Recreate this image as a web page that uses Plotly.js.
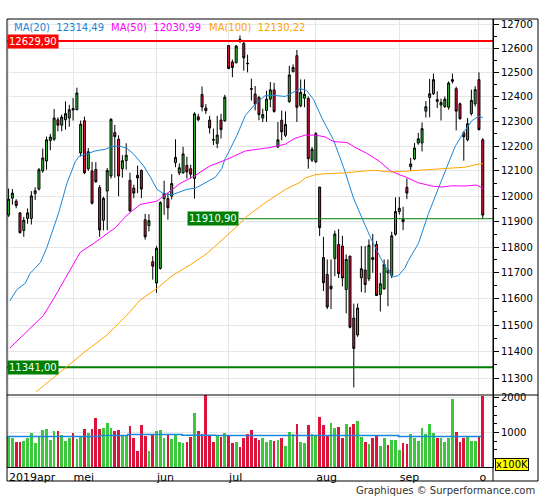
<!DOCTYPE html>
<html>
<head>
<meta charset="utf-8">
<script src="https://cdn.plot.ly/plotly-3.0.1.min.js"></script>
<style>
html,body{margin:0;padding:0;background:#fff;}
#chart{width:545px;height:500px;}
</style>
</head>
<body>
<div id="chart"></div>
<script>
// ---- data (daily candles, 2019) ----
const openP = [11925,11992,11980,11934,11865,11912,11912,12010,12028,12100,
12140,12222,12227,12306,12284,12306,12313,12352,12347,12172,
12302,12109,12100,12106,12034,11905,12020,12080,12254,12227,
12109,12141,12063,12032,12083,12102,11907,11884,11743,11661,
11717,11990,11990,12000,12133,12092,12092,12122,12109,12070,
12318,12409,12354,12305,12226,12211,12305,12302,12611,12543,
12540,12637,12620,12538,12433,12411,12397,12313,12344,12390,
12428,12196,12304,12243,12380,12503,12569,12363,12394,12393,
12143,12136,12036,11759,11694,11638,11756,11810,11804,11636,
11765,11527,11463,11681,11711,11677,11759,11810,11617,11638,
11711,11690,11850,11939,11909,12035,12117,12148,12212,12212,
12341,12397,12412,12388,12366,12360,12357,12463,12433,12371,
12253,12225,12331,12371,12470,12225];
const highP = [12030,12028,11988,11936,11918,11951,12020,12035,12112,12190,
12238,12249,12350,12316,12327,12381,12367,12395,12437,12303,
12319,12192,12136,12135,12044,11998,12112,12312,12285,12243,
12163,12211,12093,12045,12121,12106,11930,11929,11765,11804,
11980,12061,12013,12087,12227,12130,12197,12157,12125,12337,
12330,12442,12370,12322,12270,12322,12330,12408,12613,12553,
12613,12653,12627,12573,12474,12444,12404,12351,12424,12460,
12457,12297,12344,12340,12527,12533,12593,12471,12471,12401,
12196,12256,12036,11840,11752,11752,11864,11870,11844,11771,
11765,11582,11582,11804,11804,11830,11851,11824,11700,11752,
11752,11860,11995,11997,11958,12070,12152,12212,12253,12295,
12382,12473,12495,12422,12392,12401,12463,12495,12441,12376,
12260,12313,12429,12443,12500,12232];
const lowP = [11918,11966,11952,11853,11840,11891,11888,11985,12022,12093,
12105,12183,12221,12259,12259,12266,12278,12303,12345,12158,
12087,12100,11967,12053,11840,11865,11866,12070,12073,11999,
12073,12105,11938,11992,12012,11992,11829,11861,11674,11623,
11713,11926,11907,11987,12115,12083,12090,12070,12070,11990,
12300,12340,12330,12250,12204,12191,12230,12298,12513,12480,
12537,12623,12507,12500,12384,12344,12304,12297,12297,12357,
12335,12192,12223,12236,12375,12500,12297,12357,12357,12109,
12136,12133,11843,11630,11561,11561,11687,11680,11648,11545,
11488,11266,11456,11626,11623,11668,11700,11611,11552,11636,
11572,11680,11844,11927,11866,11988,12101,12143,12205,12178,
12315,12316,12407,12354,12303,12354,12347,12454,12263,12307,
12141,12219,12323,12360,12263,11911];
const closeP = [11988,12012,11963,11856,11905,11934,12001,12021,12105,12152,
12225,12236,12313,12284,12317,12331,12347,12346,12415,12288,
12093,12177,11972,12057,11867,11991,12102,12308,12238,12080,
12141,12163,11942,12012,12072,12028,11840,11903,11726,11795,
11974,12010,11954,12050,12154,12113,12168,12096,12087,12330,
12306,12358,12343,12273,12224,12244,12266,12398,12516,12520,
12609,12627,12560,12536,12431,12371,12327,12327,12390,12428,
12340,12225,12257,12287,12489,12520,12357,12418,12410,12149,
12187,12250,11876,11662,11569,11649,11851,11697,11680,11752,
11492,11412,11565,11716,11655,11807,11752,11613,11658,11732,
11700,11844,11939,11952,11899,12012,12128,12192,12229,12270,
12359,12412,12470,12381,12377,12390,12456,12470,12341,12310,
12237,12290,12385,12429,12266,11925];
// volume in units of 100K
const volume = [882,833,716,716,745,833,980,686,863,1069,
1098,784,1039,1039,922,755,833,980,814,882,
1098,980,1098,1422,1098,1127,1275,1118,1049,1069,
922,902,1186,833,461,1216,892,451,922,1039,
1069,833,931,814,922,716,686,716,863,1569,
1039,951,2300,892,716,902,863,980,922,686,
716,569,833,951,1069,833,775,833,716,775,
745,775,833,598,1010,951,1245,716,686,1216,
951,922,1451,1216,922,1275,1127,1157,833,1245,
1157,1245,1333,863,716,657,833,892,598,833,
627,775,775,480,686,657,951,833,745,1127,
951,1245,980,833,833,716,833,1951,1010,716,
833,863,745,745,863,2039];
// average volume (step line)
const volAvgX = [-0.4, 24, 31.4, 45.7, 54.5, 102.8, 124.7];
const volAvgY = [880, 910, 940, 920, 910, 880, 880];
// moving averages (candle index, value)
const ma20X = [0.3,2.2,4.4,5.7,8.4,10.1,13.2,15.4,17.6,18.6,20.2,22.8,25.5,27.2,29.4,31.2,32.9,35.6,37.3,39.1,
40.8,43.1,45.2,47.0,49.2,51.0,52.3,54.5,56.2,57.1,57.9,60.2,62.4,65.0,67.6,70.3,72.9,74.7,76.9,78.6,
80.4,82.6,85.6,88.3,90.9,93.5,95.8,98.4,100.2,101.4,102.8,104.5,105.4,108.0,110.7,113.3,115.5,117.7,119.9,122.1,
123.9,125.0];
const ma20Y = [11592,11636,11660,11699,11740,11799,11934,12052,12138,12159,12166,12180,12187,12198,12200,12190,12169,12120,12078,12027,
12010,12005,12017,12027,12031,12045,12055,12075,12110,12150,12172,12243,12323,12370,12404,12405,12401,12415,12433,12425,
12388,12313,12226,12115,11993,11902,11824,11748,11703,11684,11690,11720,11748,11813,11931,12031,12117,12198,12253,12302,
12320,12314.49];
const ma50X = [0.3,3.1,6.6,9.2,11.9,15.4,18.9,22.0,25.5,28.1,31.2,34.7,39.1,41.7,45.2,48.7,53.1,57.5,62.4,68.5,
72.9,75.5,78.2,80.8,83.4,85.6,89.2,91.8,94.4,97.9,100.6,103.2,104.5,108.0,111.6,114.2,116.8,120.3,123.4,125.0];
const ma50Y = [11413,11452,11500,11537,11601,11689,11780,11810,11849,11875,11925,11967,11980,12010,12050,12078,12120,12146,12180,12193,
12207,12231,12244,12244,12237,12218,12214,12191,12171,12137,12101,12084,12077,12053,12040,12036,12041,12040,12044,12030.99];
const ma100X = [7.3,15.4,20.7,25.9,31.2,34.7,37.3,39.1,43.5,47.9,52.3,56.7,60.2,62.8,67.6,72.9,76.9,78.2,80.8,83.4,
88.3,96.2,100.6,104.5,115.1,120.3,122.9,125.0];
const ma100Y = [11250,11345,11406,11462,11538,11596,11624,11640,11693,11731,11775,11833,11880,11920,11973,12026,12055,12072,12085,12089,
12092,12103,12096,12099,12110,12115,12124,12130.22];
const maNames = ['MA(20)', 'MA(50)', 'MA(100)'];
const maLast = ['12314,49', '12030,99', '12130,22'];
// horizontal levels
const levelValues = [12629.90, 11910.90, 11341.00];
const levelLabels = ['12629,90', '11910,90', '11341,00'];
const levelStart = [-0.42, 60.8, -0.42];
// axes
const monthStarts = [0, 17, 39, 58, 81, 103, 124];
const monthLabels = ['2019apr', 'mei', 'jun', 'jul', 'aug', 'sep', 'o'];
const priceTicks = [11300,11400,11500,11600,11700,11800,11900,12000,12100,12200,12300,12400,12500,12600,12700];
const volTicks = [1000, 2000];

// ---- styling ----
const GREEN = '#33bb33', VGREEN = '#3cc83c', RED = '#dc143c';
const BLUE = '#1a86d9', MAGENTA = '#ff00ff', ORANGE = '#ffa500';
const LEVEL_COLORS = ['#ff0000', '#008000', '#008000'];
const LEVEL_WIDTHS = [2, 1, 2];
const XMIN = -0.42, XMAX = 127.7;
const PLOT_W = 486, PLOT_H = 448, VOL_H = 72;
const FONT = 'DejaVu Sans, Verdana, sans-serif';

const idx = closeP.map((_, i) => i);
const volColors = closeP.map((c, i) => c >= openP[i] ? VGREEN : RED);

const traces = [];
// level lines (under the candles)
levelValues.forEach((v, k) => {
  traces.push({type: 'scatter', mode: 'lines', x: [levelStart[k], XMAX], y: [v, v],
    xaxis: 'x', yaxis: 'y', line: {color: LEVEL_COLORS[k], width: LEVEL_WIDTHS[k]}, hoverinfo: 'skip'});
});
traces.push({
  type: 'candlestick', x: idx, open: openP, high: highP, low: lowP, close: closeP,
  xaxis: 'x', yaxis: 'y', whiskerwidth: 0,
  increasing: {line: {color: '#000', width: 1}, fillcolor: GREEN},
  decreasing: {line: {color: '#000', width: 1}, fillcolor: RED},
  hoverinfo: 'skip'
});
[[ma20X, ma20Y, BLUE], [ma50X, ma50Y, MAGENTA], [ma100X, ma100Y, ORANGE]].forEach(([xs, ys, c]) => {
  traces.push({type: 'scatter', mode: 'lines', x: xs, y: ys, xaxis: 'x', yaxis: 'y',
    line: {color: c, width: 1}, hoverinfo: 'skip'});
});
traces.push({type: 'bar', x: idx, y: volume, xaxis: 'x', yaxis: 'y2',
  marker: {color: volColors, line: {width: 0}}, width: 0.72, hoverinfo: 'skip'});
traces.push({type: 'scatter', mode: 'lines', x: volAvgX, y: volAvgY, xaxis: 'x', yaxis: 'y2',
  line: {color: BLUE, width: 1.5, shape: 'hv'}, hoverinfo: 'skip'});

const px2paperX = p => (p - 7) / PLOT_W;
const px2paperY = p => (467 - p) / PLOT_H;

const annotations = [];
const maColors = [BLUE, MAGENTA, ORANGE];
const maLegendX = [13, 110, 208];
maNames.forEach((n, k) => {
  annotations.push({xref: 'paper', yref: 'paper', x: px2paperX(maLegendX[k]), y: px2paperY(27),
    xanchor: 'left', yanchor: 'middle', showarrow: false, borderpad: 0,
    text: n + '\u00a0\u00a0' + maLast[k], font: {family: FONT, size: 10, color: maColors[k]}});
});
levelValues.forEach((v, k) => {
  const a = {yref: 'y', y: Math.log10(v), yanchor: 'middle', showarrow: false,
    text: levelLabels[k], bgcolor: LEVEL_COLORS[k], borderpad: 1,
    font: {family: FONT, size: 10, color: '#fff'}};
  if (levelStart[k] <= XMIN) { a.xref = 'paper'; a.x = 0; a.xanchor = 'left'; }
  else { a.xref = 'x'; a.x = levelStart[k]; a.xanchor = 'right'; }
  annotations.push(a);
});
annotations.push({xref: 'paper', yref: 'paper', x: px2paperX(494.5), y: px2paperY(464),
  xanchor: 'left', yanchor: 'middle', showarrow: false, text: 'x100K',
  bgcolor: '#ffff00', bordercolor: '#000', borderwidth: 1, borderpad: 0,
  font: {family: FONT, size: 10, color: '#000'}});
annotations.push({xref: 'paper', yref: 'paper', x: px2paperX(537), y: px2paperY(490),
  xanchor: 'right', yanchor: 'middle', showarrow: false,
  text: 'Graphiques \u00a9 Surperformance.com',
  font: {family: FONT, size: 10, color: '#333'}});

const FR = px2paperX(538), FB = px2paperY(481), SEP = VOL_H / PLOT_H;
const shapes = [
  {type: 'rect', xref: 'paper', yref: 'paper', x0: 0, x1: FR, y0: FB, y1: 1, line: {color: '#000', width: 1}},
  {type: 'line', xref: 'paper', yref: 'paper', x0: 0, x1: FR, y0: SEP, y1: SEP, line: {color: '#000', width: 1}},
  {type: 'line', xref: 'paper', yref: 'paper', x0: 1, x1: 1, y0: FB, y1: 1, line: {color: '#000', width: 1}}
];

const layout = {
  width: 545, height: 500,
  margin: {l: 7, r: 52, t: 19, b: 33, pad: 0},
  paper_bgcolor: '#fff', plot_bgcolor: '#fff',
  showlegend: false,
  font: {family: FONT, size: 10, color: '#000'},
  boxgap: 0.25,
  bargap: 0,
  xaxis: {
    type: 'linear', range: [XMIN, XMAX], anchor: 'y2',
    tickmode: 'array', tickvals: monthStarts, ticktext: monthLabels,
    ticks: '', ticklabelposition: 'outside right',
    tickfont: {family: FONT, size: 11, color: '#000'},
    showgrid: true, gridcolor: '#e6e6e6', gridwidth: 1,
    showline: true, linecolor: '#000', linewidth: 1, zeroline: false,
    rangeslider: {visible: false}, fixedrange: true
  },
  yaxis: {
    type: 'log', domain: [SEP, 1], anchor: 'x', side: 'right',
    range: [Math.log10(11238), Math.log10(12722)],
    tickmode: 'array', tickvals: priceTicks, ticktext: priceTicks.map(String),
    ticks: 'outside', ticklen: 5, tickwidth: 1, tickcolor: '#000',
    tickfont: {family: FONT, size: 10, color: '#000'},
    minor: {tickmode: 'array', tickvals: priceTicks.map(v => v + 50), ticks: 'outside', ticklen: 3, tickcolor: '#000', showgrid: false},
    showgrid: true, gridcolor: '#e6e6e6', gridwidth: 1,
    showline: true, linecolor: '#000', zeroline: false, fixedrange: true
  },
  yaxis2: {
    domain: [0, SEP], anchor: 'x', side: 'right', range: [0, 2080],
    tickmode: 'array', tickvals: volTicks, ticktext: volTicks.map(String),
    ticks: 'outside', ticklen: 5, tickwidth: 1, tickcolor: '#000',
    tickfont: {family: FONT, size: 10, color: '#000'},
    minor: {tickmode: 'array', tickvals: [250, 500, 750, 1250, 1500, 1750], ticks: 'outside', ticklen: 3, tickcolor: '#000', showgrid: false},
    showgrid: true, gridcolor: '#e6e6e6', gridwidth: 1,
    showline: true, linecolor: '#000', zeroline: false, fixedrange: true
  },
  shapes: shapes,
  annotations: annotations
};

Plotly.newPlot('chart', traces, layout, {staticPlot: true, displayModeBar: false});
</script>
</body>
</html>
